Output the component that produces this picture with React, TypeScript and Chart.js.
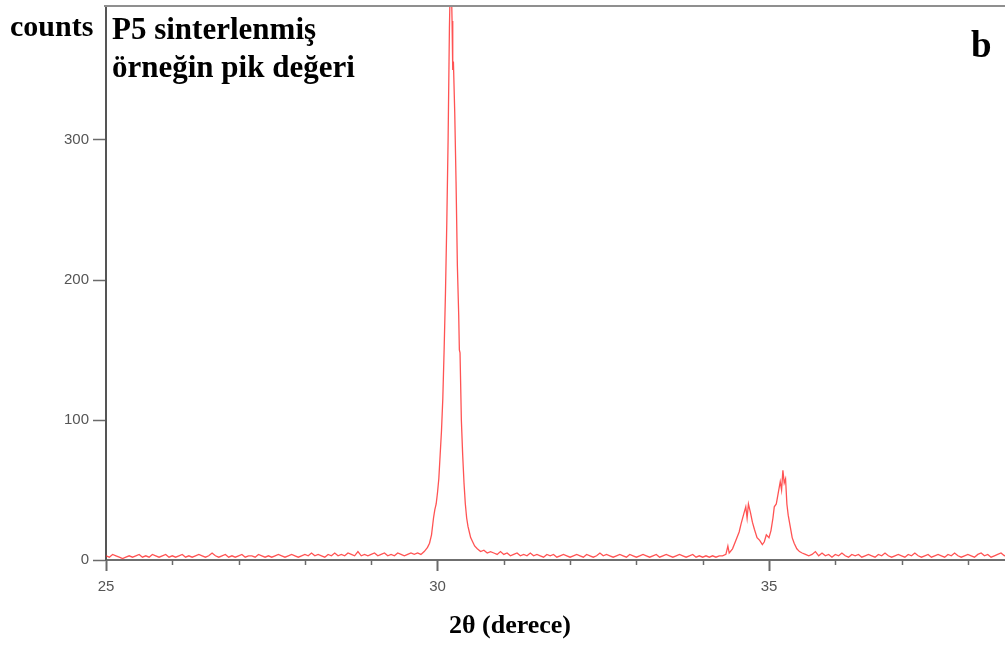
import React, { useEffect, useRef } from "react";
import { Chart, registerables } from "chart.js";

Chart.register(...registerables);

const twoTheta: number[] = [
  25.0, 25.05, 25.1, 25.15, 25.2, 25.25, 25.3, 25.35, 25.4, 25.45, 25.5, 25.55, 25.6, 25.65, 25.7, 25.75, 25.8, 25.85, 25.9, 25.95,
  26.0, 26.05, 26.1, 26.15, 26.2, 26.25, 26.3, 26.35, 26.4, 26.45, 26.5, 26.55, 26.6, 26.65, 26.7, 26.75, 26.8, 26.85, 26.9, 26.95,
  27.0, 27.05, 27.1, 27.15, 27.2, 27.25, 27.3, 27.35, 27.4, 27.45, 27.5, 27.55, 27.6, 27.65, 27.7, 27.75, 27.8, 27.85, 27.9, 27.95,
  28.0, 28.05, 28.1, 28.15, 28.2, 28.25, 28.3, 28.35, 28.4, 28.45, 28.5, 28.55, 28.6, 28.65, 28.7, 28.75, 28.8, 28.85, 28.9, 28.95,
  29.0, 29.05, 29.1, 29.15, 29.2, 29.25, 29.3, 29.35, 29.4, 29.45, 29.5, 29.55, 29.6, 29.65,
  29.7, 29.75, 29.8, 29.85, 29.88, 29.91, 29.94, 29.96, 29.98, 30.0, 30.02, 30.04, 30.06, 30.08, 30.1, 30.12, 30.14, 30.16, 30.18,
  30.2, 30.22, 30.23, 30.24, 30.26, 30.28, 30.3, 30.32, 30.33, 30.34, 30.36, 30.38, 30.4, 30.42, 30.44, 30.46, 30.48, 30.5, 30.53,
  30.56, 30.6, 30.65, 30.7, 30.75, 30.8,
  30.85, 30.9, 30.95, 31.0, 31.05, 31.1, 31.15, 31.2, 31.25, 31.3, 31.35, 31.4, 31.45, 31.5, 31.55, 31.6, 31.65, 31.7, 31.75, 31.8,
  31.85, 31.9, 31.95, 32.0, 32.05, 32.1, 32.15, 32.2, 32.25, 32.3, 32.35, 32.4, 32.45, 32.5, 32.55, 32.6, 32.65, 32.7, 32.75, 32.8,
  32.85, 32.9, 32.95, 33.0, 33.05, 33.1, 33.15, 33.2, 33.25, 33.3, 33.35, 33.4, 33.45, 33.5, 33.55, 33.6, 33.65, 33.7, 33.75, 33.8,
  33.85, 33.9, 33.95, 34.0, 34.05, 34.1, 34.15, 34.2, 34.25,
  34.3, 34.35, 34.38, 34.4, 34.45, 34.5, 34.55, 34.58, 34.62, 34.65, 34.67, 34.69, 34.72, 34.75, 34.78, 34.82, 34.86, 34.9, 34.93,
  34.96, 35.0, 35.03, 35.06, 35.08, 35.11, 35.14, 35.17, 35.19, 35.21, 35.23, 35.25, 35.27, 35.29, 35.32, 35.35, 35.38, 35.42, 35.46,
  35.5, 35.55, 35.6,
  35.65, 35.7, 35.75, 35.8, 35.85, 35.9, 35.95, 36.0, 36.05, 36.1, 36.15, 36.2, 36.25, 36.3, 36.35, 36.4, 36.45, 36.5, 36.55, 36.6,
  36.65, 36.7, 36.75, 36.8, 36.85, 36.9, 36.95, 37.0, 37.05, 37.1, 37.15, 37.2, 37.25, 37.3, 37.35, 37.4, 37.45, 37.5, 37.55, 37.6,
  37.65, 37.7, 37.75, 37.8, 37.85, 37.9, 37.95, 38.0, 38.05, 38.1, 38.15, 38.2, 38.25, 38.3, 38.35, 38.4, 38.45, 38.5, 38.55, 38.6,
];

const counts: number[] = [
  3, 2, 4, 3, 2, 1, 2, 3, 2, 3, 4, 2, 3, 2, 4, 3, 2, 3, 4, 2,
  3, 2, 3, 4, 2, 3, 2, 3, 4, 3, 2, 3, 5, 3, 2, 3, 4, 2, 3, 2,
  3, 4, 2, 3, 3, 2, 4, 3, 2, 3, 2, 3, 4, 3, 2, 3, 4, 3, 2, 3,
  4, 3, 5, 3, 4, 3, 2, 4, 3, 5, 3, 4, 3, 5, 4, 3, 6, 3, 4, 3,
  4, 5, 3, 4, 5, 3, 4, 3, 5, 4, 3, 4, 5, 4,
  5, 4, 6, 9, 12, 18, 30, 36, 40, 48, 58, 75, 92, 115, 150, 190, 240, 300, 380,
  430, 385, 350, 356, 320, 270, 210, 175, 150, 148, 100, 75, 55, 40, 30, 24, 20, 16, 13,
  10, 8, 6, 7, 5, 6,
  5, 4, 6, 4, 5, 3, 4, 5, 3, 4, 3, 5, 3, 4, 3, 2, 4, 3, 4, 2,
  3, 4, 3, 2, 3, 4, 3, 2, 4, 3, 2, 3, 5, 3, 4, 3, 2, 3, 4, 3,
  2, 4, 3, 2, 3, 4, 3, 2, 3, 4, 2, 3, 4, 3, 2, 3, 4, 3, 2, 3,
  4, 2, 3, 2, 3, 2, 3, 2, 3,
  3, 4, 10, 5, 8, 14, 20, 26, 33, 38, 30, 40, 34, 27, 22, 16, 14, 11, 13,
  18, 16, 21, 30, 38, 40, 48, 56, 50, 64, 55, 58, 40, 32, 24, 16, 12, 8, 6,
  5, 4, 3,
  4, 6, 3, 5, 3, 4, 2, 4, 3, 5, 3, 2, 4, 3, 4, 2, 3, 4, 3, 2,
  4, 3, 5, 3, 2, 3, 4, 3, 2, 4, 3, 5, 3, 2, 3, 4, 2, 3, 4, 3,
  2, 4, 3, 5, 3, 2, 3, 4, 3, 2, 4, 5, 3, 4, 2, 3, 4, 5, 3, 4,
];

const xTickMarks: number[] = [25, 26, 27, 28, 29, 30, 31, 32, 33, 34, 35, 36, 37, 38];
const xTickLabels: number[] = [25, 30, 35];
const yTickLabels: number[] = [0, 100, 200, 300];

const X_MIN = 25;
const X_MAX = 38.56;
const Y_MIN = 0;
const Y_MAX = 395;

const serif = '"Liberation Serif", "Times New Roman", serif';
const sans = '"Liberation Sans", Arial, sans-serif';

export default function App() {
  const canvasRef = useRef<HTMLCanvasElement | null>(null);

  useEffect(() => {
    const canvas = canvasRef.current;
    if (!canvas) return;

    const framePlugin = {
      id: "frame",
      afterDraw(chart: any) {
        const ctx = chart.ctx;
        const area = chart.chartArea;
        const xs = chart.scales.x;
        ctx.save();
        // top border of the plot box
        ctx.strokeStyle = "#8f8f8f";
        ctx.lineWidth = 2;
        ctx.beginPath();
        ctx.moveTo(area.left - 2, area.top - 1);
        ctx.lineTo(area.right, area.top - 1);
        ctx.stroke();
        // x tick marks: long at labelled values, short otherwise
        for (const v of xTickMarks) {
          const px = Math.round(xs.getPixelForValue(v)) + 0.5;
          const major = xTickLabels.includes(v);
          ctx.strokeStyle = "#6a6a6a";
          ctx.lineWidth = major ? 2 : 1.5;
          ctx.beginPath();
          ctx.moveTo(px, area.bottom);
          ctx.lineTo(px, area.bottom + (major ? 11 : 5));
          ctx.stroke();
        }
        ctx.restore();
      },
    };

    const chart = new Chart(canvas, {
      type: "line",
      data: {
        datasets: [
          {
            data: twoTheta.map((x, i) => ({ x, y: counts[i] })),
            borderColor: "rgba(255, 40, 40, 0.8)",
            borderWidth: 1.3,
            pointRadius: 0,
            tension: 0,
            fill: false,
          },
        ],
      },
      options: {
        animation: false,
        responsive: false,
        events: [],
        layout: { padding: { left: 0, right: 0, top: 7, bottom: 0 } },
        plugins: {
          legend: { display: false },
          tooltip: { enabled: false },
          title: { display: false },
        },
        scales: {
          x: {
            type: "linear",
            min: X_MIN,
            max: X_MAX,
            afterBuildTicks: (scale: any) => {
              scale.ticks = xTickLabels.map((v) => ({ value: v }));
            },
            afterFit: (scale: any) => {
              scale.height = 86;
              scale.paddingLeft = 0;
              scale.paddingRight = 0;
            },
            grid: { display: false, drawOnChartArea: false },
            border: { display: true, color: "#6f6f6f", width: 2 },
            ticks: {
              autoSkip: false,
              maxRotation: 0,
              padding: 10,
              color: "#555",
              font: { family: sans, size: 15 },
            },
          },
          y: {
            type: "linear",
            min: Y_MIN,
            max: Y_MAX,
            afterBuildTicks: (scale: any) => {
              scale.ticks = yTickLabels.map((v) => ({ value: v }));
            },
            afterFit: (scale: any) => {
              scale.width = 106;
              scale.paddingTop = 0;
              scale.paddingBottom = 0;
            },
            grid: {
              display: true,
              drawOnChartArea: false,
              drawTicks: true,
              tickLength: 13,
              tickColor: "#6a6a6a",
              tickWidth: 1.5,
            },
            border: { display: true, color: "#555", width: 2 },
            ticks: {
              padding: 4,
              color: "#555",
              font: { family: sans, size: 15 },
            },
          },
        },
      },
      plugins: [framePlugin],
    });

    return () => chart.destroy();
  }, []);

  return (
    <div
      style={{
        position: "fixed",
        left: 0,
        top: 0,
        width: 1005,
        height: 646,
        background: "#fff",
        overflow: "hidden",
      }}
    >
      <canvas ref={canvasRef} width={1005} height={646} style={{ position: "absolute", left: 0, top: 0 }} />
      <div
        style={{
          position: "absolute",
          left: 10,
          top: 11,
          fontFamily: serif,
          fontWeight: "bold",
          fontSize: 30,
          lineHeight: "30px",
          color: "#000",
          whiteSpace: "nowrap",
        }}
      >
        counts
      </div>
      <div
        style={{
          position: "absolute",
          left: 112,
          top: 10,
          fontFamily: serif,
          fontWeight: "bold",
          fontSize: 31,
          lineHeight: "38px",
          color: "#000",
          whiteSpace: "nowrap",
        }}
      >
        P5 sinterlenmiş
        <br />
        örneğin pik değeri
      </div>
      <div
        style={{
          position: "absolute",
          left: 971,
          top: 26,
          fontFamily: serif,
          fontWeight: "bold",
          fontSize: 37,
          lineHeight: "37px",
          color: "#000",
        }}
      >
        b
      </div>
      <div
        style={{
          position: "absolute",
          left: 0,
          width: 1020,
          top: 611,
          textAlign: "center",
          fontFamily: serif,
          fontWeight: "bold",
          fontSize: 26,
          lineHeight: "28px",
          color: "#000",
          whiteSpace: "nowrap",
        }}
      >
        2θ (derece)
      </div>
    </div>
  );
}
